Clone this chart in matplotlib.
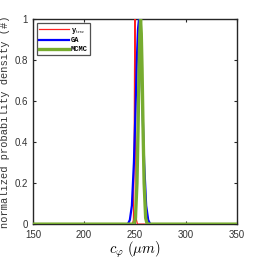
import numpy as np
import matplotlib
matplotlib.use("Agg")
import matplotlib.pyplot as plt

plt.rcParams["mathtext.fontset"] = "cm"
plt.rcParams["font.family"] = "Liberation Sans"

# values (x in um, y normalised density)
x_true = [150, 247.5, 248.5, 249.2, 249.6, 250.0, 250.4, 250.8, 251.5, 252.5, 350]
y_true = [0, 0, 0.02, 0.30, 0.75, 1.0, 0.75, 0.30, 0.02, 0, 0]

x_ga = [150, 243, 245, 247, 249, 250.5, 252, 253, 254, 255, 256, 257.5, 259, 261, 263, 265, 350]
y_ga = [0, 0, 0.02, 0.09, 0.30, 0.55, 0.82, 0.95, 1.0, 0.95, 0.82, 0.55, 0.30, 0.09, 0.02, 0, 0]

x_mcmc = [150, 249, 250.5, 252, 253, 254, 254.8, 255.5, 256.2, 257, 258, 259, 260.5, 262, 350]
y_mcmc = [0, 0, 0.03, 0.20, 0.45, 0.75, 0.93, 1.0, 0.93, 0.75, 0.45, 0.20, 0.03, 0, 0]

x_ticks = [150, 200, 250, 300, 350]
y_ticks = [0, 0.2, 0.4, 0.6, 0.8, 1]
y_ticklabels = ["0", "0.2", "0.4", "0.6", "0.8", "1"]

fig = plt.figure(figsize=(2.59, 2.60), dpi=100)
ax = fig.add_axes([0.127, 0.138, 0.788, 0.789])

ax.plot(x_true, y_true, color="#ff2020", lw=0.9, label=r"y$_{\mathrm{true}}$", zorder=3)
ax.plot(x_ga, y_ga, color="#0000ff", lw=1.6, label="GA", zorder=4)
ax.plot(x_mcmc, y_mcmc, color="#77ac30", lw=2.4, label="MCMC", zorder=5)

ax.set_xlim(150, 350)
ax.set_ylim(0, 1)
ax.set_xticks(x_ticks)
ax.set_yticks(y_ticks)
ax.set_yticklabels(y_ticklabels)
ax.tick_params(direction="in", length=2.5, width=0.8, labelsize=7,
               top=True, right=True, colors="#262626", labelcolor="#333333")
ax.tick_params(axis="x", pad=4)
ax.tick_params(axis="y", pad=3.5)
for s in ax.spines.values():
    s.set_linewidth(1.0)
    s.set_color("#262626")
    s.set_zorder(2)

ax.set_xlabel(r"$c_{\varphi}\ (\mu m)$", fontsize=10.5, labelpad=0)
ax.set_ylabel("normalized probability density (#)", family="Liberation Mono",
              fontsize=7.5, labelpad=3, color="#333333")

leg = ax.legend(loc="upper left", prop={"family": "Liberation Mono", "size": 5, "weight": "bold"},
                frameon=True, fancybox=False, edgecolor="#262626", handlelength=4.2,
                borderpad=0.35, labelspacing=0.25, handletextpad=0.3,
                borderaxespad=0.6)
leg.get_frame().set_linewidth(0.9)

fig.savefig("out.png", dpi=100)
